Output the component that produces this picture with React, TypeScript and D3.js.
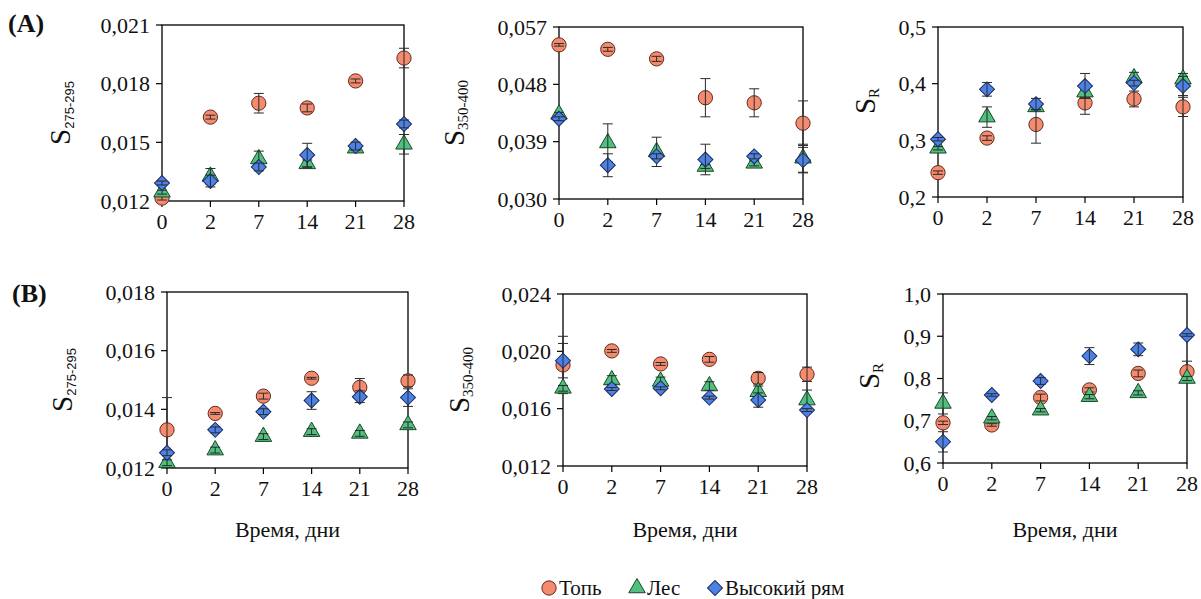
import React from 'react';
import * as d3 from 'd3';

// ---------- DATA ----------
const days = ["0", "2", "7", "14", "21", "28"];
const seriesNames = ["Топь", "Лес", "Высокий рям"];

// Panel (A) S275-295
const a1Top = [0.01215, 0.01629, 0.0170, 0.01676, 0.01814, 0.01931];
const a1TopErr = [0.0001, 0.0001, 0.0005, 0.0002, 0.0001, 0.0005];
const a1Les = [0.01245, 0.01326, 0.01415, 0.0139, 0.0147, 0.0149];
const a1LesErr = [0.0001, 0.0004, 0.0004, 0.0002, 0.0001, 0.0005];
const a1Ryam = [0.01292, 0.01302, 0.01374, 0.01435, 0.01481, 0.01594];
const a1RyamErr = [0.0001, 0.0003, 0.0002, 0.0006, 0.0002, 0.0002];
const a1Ticks = [0.012, 0.015, 0.018, 0.021];

// Panel (A) S350-400
const a2Top = [0.0542, 0.0535, 0.0520, 0.0459, 0.0451, 0.0419];
const a2TopErr = [0.0002, 0.0003, 0.0004, 0.003, 0.0022, 0.0035];
const a2Les = [0.0433, 0.0388, 0.0374, 0.0351, 0.0356, 0.0364];
const a2LesErr = [0.0003, 0.003, 0.0023, 0.0003, 0.0004, 0.0022];
const a2Ryam = [0.0426, 0.0353, 0.0367, 0.0362, 0.0367, 0.0361];
const a2RyamErr = [0.0003, 0.0018, 0.0004, 0.0024, 0.0004, 0.002];
const a2Ticks = [0.030, 0.039, 0.048, 0.057];

// Panel (A) SR
const a3Top = [0.243, 0.304, 0.328, 0.366, 0.373, 0.359];
const a3TopErr = [0.003, 0.004, 0.033, 0.02, 0.014, 0.017];
const a3Les = [0.286, 0.341, 0.359, 0.385, 0.410, 0.408];
const a3LesErr = [0.003, 0.018, 0.005, 0.01, 0.01, 0.01];
const a3Ryam = [0.302, 0.390, 0.364, 0.396, 0.401, 0.396];
const a3RyamErr = [0.003, 0.012, 0.01, 0.022, 0.005, 0.017];
const a3Ticks = [0.2, 0.3, 0.4, 0.5];

// Panel (B) S275-295
const b1Top = [0.0133, 0.01386, 0.01445, 0.01506, 0.01475, 0.01497];
const b1TopErr = [0.0011, 0.00003, 0.0001, 0.00003, 0.0003, 0.0002];
const b1Les = [0.01218, 0.01261, 0.01307, 0.01324, 0.01318, 0.01347];
const b1LesErr = [0.0001, 0.0001, 0.0001, 0.0001, 0.0001, 0.0001];
const b1Ryam = [0.01252, 0.0133, 0.01392, 0.0143, 0.01443, 0.0144];
const b1RyamErr = [0.0001, 0.0001, 0.0001, 0.0003, 0.0002, 0.0003];
const b1Ticks = [0.012, 0.014, 0.016, 0.018];

// Panel (B) S350-400
const b2Top = [0.01905, 0.02003, 0.01912, 0.01944, 0.01812, 0.0184];
const b2TopErr = [0.002, 0.0001, 0.0001, 0.0002, 0.0004, 0.0005];
const b2Les = [0.01742, 0.0180, 0.0179, 0.01758, 0.01718, 0.0166];
const b2LesErr = [0.0002, 0.0003, 0.0003, 0.0003, 0.0004, 0.0007];
const b2Ryam = [0.01935, 0.01737, 0.01742, 0.01677, 0.0166, 0.0159];
const b2RyamErr = [0.0012, 0.0001, 0.0001, 0.0001, 0.0005, 0.0001];
const b2Ticks = [0.012, 0.016, 0.020, 0.024];

// Panel (B) SR
const b3Top = [0.695, 0.690, 0.755, 0.773, 0.812, 0.816];
const b3TopErr = [0.004, 0.003, 0.008, 0.005, 0.008, 0.025];
const b3Les = [0.741, 0.706, 0.725, 0.757, 0.766, 0.800];
const b3LesErr = [0.025, 0.004, 0.004, 0.005, 0.005, 0.005];
const b3Ryam = [0.650, 0.761, 0.794, 0.853, 0.869, 0.903];
const b3RyamErr = [0.024, 0.003, 0.008, 0.02, 0.015, 0.003];
const b3Ticks = [0.6, 0.7, 0.8, 0.9, 1.0];

// ---------- STYLE / LAYOUT ----------
const SERIF = "Liberation Serif, Times New Roman, serif";
const SANS = "Liberation Sans, Arial, sans-serif";

const markerStyles = [
  { fill: "#F58B6E", stroke: "#5e2a1e", type: d3.symbolCircle, size: 160, rot: 0 },
  { fill: "#4FC07D", stroke: "#1a4529", type: d3.symbolTriangle, size: 118, rot: 0 },
  { fill: "#4C82E6", stroke: "#1a2a60", type: d3.symbolSquare, size: 112, rot: 45 },
];

type Panel = {
  left: number; right: number; top: number; bottom: number;
  ticks: number[]; fmt: string;
  series: number[][]; errs: number[][];
  sub: string; subSans: boolean; labelX: number; labelY: number;
};

const panels: Panel[] = [
  { left: 162, right: 404, top: 25, bottom: 201, ticks: a1Ticks, fmt: ".3f",
    series: [a1Top, a1Les, a1Ryam], errs: [a1TopErr, a1LesErr, a1RyamErr],
    sub: "275-295", subSans: true, labelX: 70, labelY: 113 },
  { left: 559, right: 803, top: 27, bottom: 199, ticks: a2Ticks, fmt: ".3f",
    series: [a2Top, a2Les, a2Ryam], errs: [a2TopErr, a2LesErr, a2RyamErr],
    sub: "350-400", subSans: false, labelX: 464, labelY: 113 },
  { left: 938, right: 1183, top: 27, bottom: 197, ticks: a3Ticks, fmt: ".1f",
    series: [a3Top, a3Les, a3Ryam], errs: [a3TopErr, a3LesErr, a3RyamErr],
    sub: "R", subSans: false, labelX: 875, labelY: 101 },
  { left: 167, right: 408, top: 292, bottom: 468, ticks: b1Ticks, fmt: ".3f",
    series: [b1Top, b1Les, b1Ryam], errs: [b1TopErr, b1LesErr, b1RyamErr],
    sub: "275-295", subSans: true, labelX: 72, labelY: 380 },
  { left: 563, right: 807, top: 294, bottom: 466, ticks: b2Ticks, fmt: ".3f",
    series: [b2Top, b2Les, b2Ryam], errs: [b2TopErr, b2LesErr, b2RyamErr],
    sub: "350-400", subSans: false, labelX: 469, labelY: 380 },
  { left: 943, right: 1187, top: 294, bottom: 463, ticks: b3Ticks, fmt: ".1f",
    series: [b3Top, b3Les, b3Ryam], errs: [b3TopErr, b3LesErr, b3RyamErr],
    sub: "R", subSans: false, labelX: 879, labelY: 376 },
];

function PanelView({ p }: { p: Panel }) {
  const x = d3.scalePoint<string>().domain(days).range([p.left, p.right]).padding(0);
  const ext = d3.extent(p.ticks) as [number, number];
  const y = d3.scaleLinear().domain(ext).range([p.bottom, p.top]);
  const f = d3.format(p.fmt);
  return (
    <g>
      <rect x={p.left} y={p.top} width={p.right - p.left} height={p.bottom - p.top}
        fill="none" stroke="#000" strokeWidth={1.3} />
      {days.map((d) => (
        <g key={d}>
          <line x1={x(d)} x2={x(d)} y1={p.bottom} y2={p.bottom + 6} stroke="#000" strokeWidth={1.2} />
          <text x={x(d)} y={p.bottom + 28} textAnchor="middle" style={{ fontFamily: SERIF }} fontSize={22} fill="#111">{d}</text>
        </g>
      ))}
      {p.ticks.map((t) => (
        <g key={t}>
          <line x1={p.left - 6} x2={p.left} y1={y(t)} y2={y(t)} stroke="#000" strokeWidth={1.2} />
          <text x={p.left - 12} y={y(t)} dy="0.35em" textAnchor="end" style={{ fontFamily: SERIF }} fontSize={22} fill="#111">
            {f(t).replace(".", ",")}
          </text>
        </g>
      ))}
      <text transform={`translate(${p.labelX},${p.labelY}) rotate(-90)`} textAnchor="middle" fill="#111" style={{ fontFamily: SERIF }}>
        <tspan fontSize={29}>S</tspan>
        <tspan fontSize={p.subSans ? 13 : 15} style={{ fontFamily: p.subSans ? SANS : SERIF }} dy={4}>{p.sub}</tspan>
      </text>
      {p.series.map((vals, si) => {
        const st = markerStyles[si];
        const path = d3.symbol().type(st.type).size(st.size)() as string;
        return (
          <g key={si}>
            {vals.map((v, i) => (
              <path key={"m" + i} d={path}
                transform={`translate(${x(days[i])},${y(v)}) rotate(${st.rot})`}
                fill={st.fill} stroke={st.stroke} strokeWidth={1} />
            ))}
            {vals.map((v, i) => {
              const e = p.errs[si][i];
              const cx = x(days[i]) as number;
              const y1 = y(v - e), y2 = y(v + e);
              return (
                <g key={"e" + i} stroke="#2a2a2a" strokeWidth={1}>
                  <line x1={cx} x2={cx} y1={y1} y2={y2} />
                  <line x1={cx - 5} x2={cx + 5} y1={y1} y2={y1} />
                  <line x1={cx - 5} x2={cx + 5} y1={y2} y2={y2} />
                </g>
              );
            })}
          </g>
        );
      })}
    </g>
  );
}

const legendX = [549, 637, 715];

export default function App() {
  return (
    <svg width={1201} height={599} style={{ position: "absolute", left: 0, top: 0, background: "#fff" }}>
      <rect width={1201} height={599} fill="#fff" />
      <text x={8} y={32} style={{ fontFamily: SERIF }} fontWeight="bold" fontSize={26} fill="#111">(A)</text>
      <text x={12} y={302} style={{ fontFamily: SERIF }} fontWeight="bold" fontSize={26} fill="#111">(B)</text>
      {panels.map((p, i) => <PanelView key={i} p={p} />)}
      {panels.slice(3).map((p, i) => (
        <text key={"xt" + i} x={(p.left + p.right) / 2} y={537} textAnchor="middle"
          style={{ fontFamily: SERIF }} fontSize={22} fill="#111">Время, дни</text>
      ))}
      {seriesNames.map((n, i) => {
        const st = markerStyles[i];
        const path = d3.symbol().type(st.type).size(st.size)() as string;
        return (
          <g key={n}>
            <path d={path} transform={`translate(${legendX[i]},${588}) rotate(${st.rot})`}
              fill={st.fill} stroke={st.stroke} strokeWidth={1} />
            <text x={legendX[i] + 10} y={595} style={{ fontFamily: SERIF }} fontSize={21} fill="#111">{n}</text>
          </g>
        );
      })}
    </svg>
  );
}
